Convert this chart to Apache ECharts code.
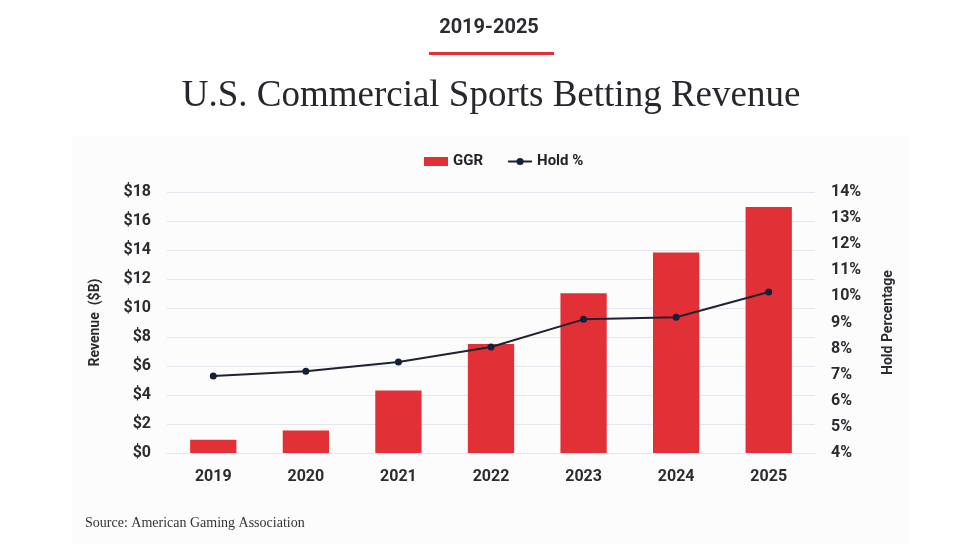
<!DOCTYPE html>
<html>
<head>
<meta charset="utf-8">
<script src="https://cdn.jsdelivr.net/npm/echarts@6/dist/echarts.min.js"></script>
<style>
html,body{margin:0;padding:0;background:#fff;}
#chart{width:966px;height:559px;}
</style>
</head>
<body>
<div id="chart"></div>
<script>
const years = ['2019','2020','2021','2022','2023','2024','2025'];
const ggr = [0.92, 1.56, 4.31, 7.52, 11.01, 13.83, 16.97];
const holdPct = [6.95, 7.13, 7.49, 8.06, 9.12, 9.2, 10.17];
const headerText = '2019-2025';
const titleText = 'U.S. Commercial Sports Betting Revenue';
const sourceText = 'Source: American Gaming Association';
const leftAxisName = 'Revenue  ($B)';
const rightAxisName = 'Hold Percentage';

const chart = echarts.init(document.getElementById('chart'), null, {renderer: 'canvas'});
const labelColor = '#2b2b30';
const gridColor = '#e6e6ee';
const redColor = '#e23136';
const lineColor = '#1f2330';

chart.setOption({
  animation: false,
  backgroundColor: '#ffffff',
  textStyle: {fontFamily: 'Roboto'},
  graphic: [
    {type: 'rect', z: -100, shape: {x: 72, y: 136, width: 839, height: 408}, style: {fill: '#fcfcfd'}},
    {type: 'text', x: 489, y: 28, style: {text: headerText, font: 'bold 20px Roboto', fill: labelColor, align: 'center', verticalAlign: 'middle'}},
    {type: 'rect', shape: {x: 429, y: 52, width: 125, height: 3}, style: {fill: redColor}},
    {type: 'text', x: 491, y: 96, style: {text: titleText, font: 'normal 37px "Liberation Serif"', fill: '#26262c', align: 'center', verticalAlign: 'middle'}},
    {type: 'text', x: 85, y: 523, style: {text: sourceText, font: 'normal 14px "Liberation Serif"', fill: '#333338', align: 'left', verticalAlign: 'middle'}}
  ],
  legend: {
    left: 419,
    top: 149,
    itemWidth: 24,
    itemHeight: 9,
    itemGap: 24,
    textStyle: {fontFamily: 'Roboto', fontWeight: 'bold', fontSize: 15, color: '#222228'},
    data: [
      {name: 'GGR', icon: 'rect'},
      {name: 'Hold %'}
    ]
  },
  grid: {left: 167, right: 151, top: 192, bottom: 106, containLabel: false},
  xAxis: {
    type: 'category',
    data: years,
    axisTick: {show: false},
    axisLine: {lineStyle: {color: gridColor, width: 1}},
    axisLabel: {fontSize: 16, fontWeight: 'bold', color: labelColor, margin: 16}
  },
  yAxis: [
    {
      type: 'value', min: 0, max: 18, interval: 2,
      name: leftAxisName, nameLocation: 'middle', nameRotate: 90, nameGap: 65,
      nameTextStyle: {fontSize: 14, fontWeight: 'bold', color: labelColor},
      axisLine: {show: false}, axisTick: {show: false},
      axisLabel: {formatter: v => '$' + v, fontSize: 16, fontWeight: 'bold', color: labelColor, margin: 16},
      splitLine: {lineStyle: {color: gridColor, width: 1}}
    },
    {
      type: 'value', min: 4, max: 14, interval: 1, position: 'right',
      name: rightAxisName, nameLocation: 'middle', nameRotate: 90, nameGap: 66,
      nameTextStyle: {fontSize: 14, fontWeight: 'bold', color: labelColor},
      axisLine: {show: false}, axisTick: {show: false},
      axisLabel: {formatter: v => v + '%', fontSize: 16, fontWeight: 'bold', color: labelColor, margin: 16},
      splitLine: {show: false}
    }
  ],
  series: [
    {
      name: 'GGR', type: 'bar', data: ggr, yAxisIndex: 0, barWidth: '50%',
      itemStyle: {color: redColor}
    },
    {
      name: 'Hold %', type: 'line', data: holdPct, yAxisIndex: 1,
      symbol: 'circle', symbolSize: 7,
      lineStyle: {color: lineColor, width: 2},
      itemStyle: {color: '#14203a'}
    }
  ]
});
</script>
</body>
</html>
